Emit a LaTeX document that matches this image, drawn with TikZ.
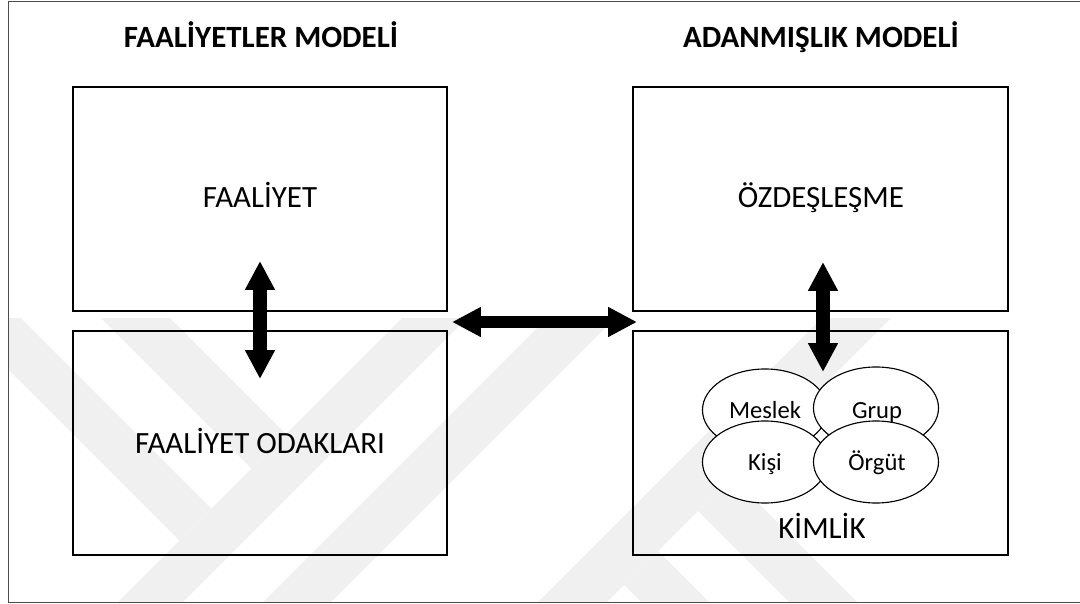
\documentclass[tikz,border=0pt]{standalone}
\usepackage{fontspec}
\setmainfont{Carlito}
\usetikzlibrary{arrows.meta,shapes.geometric}
\begin{document}
\begin{tikzpicture}[x=0.025cm,y=-0.025cm,
  frame/.style={draw=black!70,line width=0.7pt},
  panel/.style={draw=black,line width=0.9pt},
  heading/.style={font=\bfseries\fontsize{22}{26}\selectfont,anchor=base,inner sep=0pt},
  caption/.style={font=\fontsize{22}{26}\selectfont,anchor=base,inner sep=0pt},
  facet/.style={draw=black,fill=white,line width=0.8pt,ellipse,inner sep=0pt,
                minimum width=3.125cm,minimum height=2.05cm},
  facettext/.style={font=\fontsize{17.5}{20}\selectfont,anchor=base,inner sep=0pt},
  stripe/.style={fill=black!6,draw=none},
  bigarrow/.style={line width=10pt,
     {Triangle[length=20.6pt,width=20pt]}-{Triangle[length=20.6pt,width=20pt]}},
  flatarrow/.style={line width=8.5pt,
     {Triangle[length=20.6pt,width=20pt]}-{Triangle[length=20.6pt,width=20pt]}}]

\useasboundingbox (0,0) rectangle (1080,604);

% faint diagonal background stripes
\begin{scope}
  \clip (8,318) rectangle (1079,603);
  \fill[stripe] (402,318) -- (467,318) -- (182,603) -- (117,603) -- cycle;
  \fill[stripe] (547,318) -- (615,318) -- (330,603) -- (262,603) -- cycle;
  \fill[stripe] (822,318) -- (891,318) -- (606,603) -- (537,603) -- cycle;
  \fill[stripe] (-43,318) -- (21,318) -- (211.5,508.5) -- (179.5,540.5) -- cycle;
  \fill[stripe] (101,318) -- (170,318) -- (286,434) -- (251.5,468.5) -- cycle;
  \fill[stripe] (732,477) -- (858,603) -- (790,603) -- (698,511) -- cycle;
  \fill[stripe] (658,551) -- (710,603) -- (642,603) -- (624,585) -- cycle;
\end{scope}

% outer frame
\begin{scope}
  \clip (0,0) rectangle (1080,604);
  \draw[frame] (8,1.5) rectangle (1100,602.5);
\end{scope}

% headings
\node[heading] (hA) at (261,48) {FAALİYETLER MODELİ};
\node[heading] (hB) at (821,48) {ADANMIŞLIK MODELİ};

% panels
\draw[panel] (73,87) rectangle (447,311);
\draw[panel] (73,331) rectangle (447,555);
\draw[panel] (633,87) rectangle (1008,311);
\draw[panel] (633,331) rectangle (1008,555);

\node[caption] (faaliyet) at (260,207) {FAALİYET};
\node[caption] (odak) at (260,453) {FAALİYET ODAKLARI};
\node[caption] (ozdes) at (821,207) {ÖZDEŞLEŞME};
\node[caption] (kimlik) at (822,538) {KİMLİK};

% identity facets
\node[facet] (meslek) at (765,410) {};
\node[facettext] (tmeslek) at (765,418) {Meslek};
\node[facet] (grup) at (876,408) {};
\node[facettext] (tgrup) at (877,418) {Grup};
\node[facet] (kisi) at (765,462) {};
\node[facettext] (tkisi) at (765,470) {Kişi};
\node[facet] (orgut) at (876,462) {};
\node[facettext] (torgut) at (877,470) {Örgüt};

% two-way arrows
\coordinate (lTop) at (260,261);
\coordinate (lBot) at (260,379);
\coordinate (mL) at (452,322);
\coordinate (mR) at (637,322);
\coordinate (rTop) at (823,262);
\coordinate (rBot) at (823,372);
\draw[bigarrow] (lTop) -- (lBot);
\draw[flatarrow] (mL) -- (mR);
\draw[bigarrow] (rTop) -- (rBot);
\end{tikzpicture}
\end{document}
